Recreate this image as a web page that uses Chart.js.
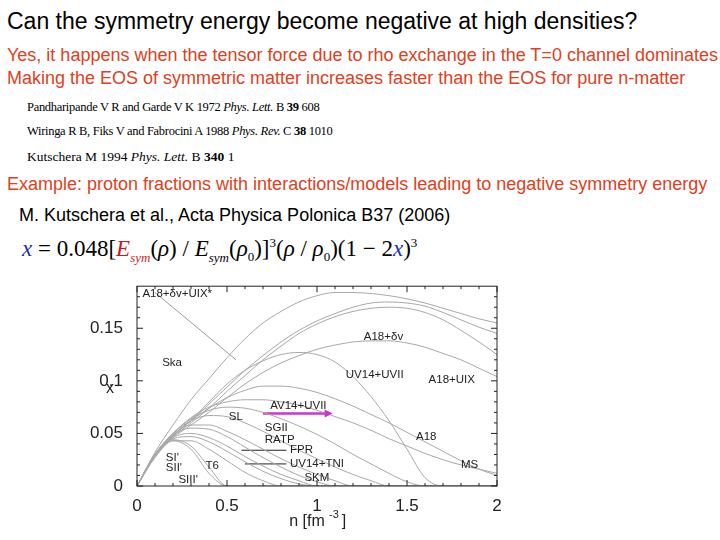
<!DOCTYPE html>
<html><head><meta charset="utf-8">
<script src="https://cdn.jsdelivr.net/npm/chart.js@4"></script>
<style>
body{margin:0;width:720px;height:540px;background:#fff;position:relative;overflow:hidden;font-family:Arial,"Liberation Sans",sans-serif}
.t{position:absolute;white-space:nowrap;line-height:1}
.red{color:#e0401c}
.tm{font-family:"Liberation Serif","Times New Roman",serif}
</style></head><body>
<div class="t" style="left:7px;top:10px;font-size:23px">Can the symmetry energy become negative at high densities?</div>
<div class="t red" style="left:7px;top:46px;font-size:18px">Yes, it happens when the tensor force due to rho exchange in the T=0 channel dominates</div>
<div class="t red" style="left:7px;top:69px;font-size:18px">Making the EOS of symmetric matter increases faster than the EOS for pure n-matter</div>
<div class="t tm" style="left:27px;top:101px;font-size:12.5px;letter-spacing:-0.3px">Pandharipande V R and Garde V K 1972 <i>Phys. Lett.</i> B <b>39</b> 608</div>
<div class="t tm" style="left:27px;top:125px;font-size:12.5px;letter-spacing:-0.3px">Wiringa R B, Fiks V and Fabrocini A 1988 <i>Phys. Rev.</i> C <b>38</b> 1010</div>
<div class="t tm" style="left:27px;top:150px;font-size:13.5px">Kutschera M 1994 <i>Phys. Lett.</i> B <b>340</b> 1</div>
<div class="t red" style="left:7px;top:175px;font-size:18px">Example: proton fractions with interactions/models leading to negative symmetry energy</div>
<div class="t" style="left:19px;top:206px;font-size:18px">M. Kutschera et al., Acta Physica Polonica B37 (2006)</div>
<div class="t tm" style="left:22px;top:236px;font-size:23px"><i style="color:#1a2fb0">x</i> = 0.048[<i style="color:#d01818">E<sub style="font-size:13px">sym</sub></i>(<i>ρ</i>) / <i>E<sub style="font-size:13px">sym</sub></i>(<i>ρ</i><sub style="font-size:13px">0</sub>)]<sup style="font-size:13px">3</sup>(<i>ρ</i> / <i>ρ</i><sub style="font-size:13px">0</sub>)(1 − 2<i style="color:#1a2fb0">x</i>)<sup style="font-size:13px">3</sup></div>
<div style="position:absolute;left:80px;top:270px;width:430px;height:270px"><canvas id="c" width="430" height="270"></canvas></div>
<script>
const nGrid=[0,0.1,0.2,0.3,0.4,0.5,0.6,0.7,0.8,0.9,1.0,1.1,1.2,1.3,1.4,1.5,1.6,1.7,1.8,1.9,2.0];
const curveSka=[0,0.032,0.058,0.082,0.102,0.122,0.14,0.155,0.166,0.175,0.181,0.184,0.184,0.183,0.181,0.178,0.174,0.169,0.164,0.159,0.155];
const curveB=[0,0.03,0.048,0.062,0.078,0.094,0.11,0.124,0.137,0.148,0.157,0.164,0.17,0.174,0.175,0.174,0.171,0.165,0.158,0.151,0.145];
const curveC=[0,0.03,0.047,0.06,0.074,0.09,0.105,0.12,0.133,0.145,0.154,0.161,0.166,0.169,0.17,0.169,0.165,0.158,0.148,0.137,0.125];
const curveA18dv=[0,0.03,0.046,0.058,0.07,0.084,0.097,0.108,0.117,0.124,0.13,0.134,0.137,0.138,0.138,0.136,0.132,0.126,0.12,0.112,0.104];
const curveUV14UVII=[0,0.03,0.048,0.063,0.08,0.097,0.11,0.119,0.125,0.127,0.125,0.118,0.104,0.085,0.062,0.035,0.008,0,0,0,0];
const curveA18=[0,0.03,0.048,0.062,0.074,0.084,0.091,0.095,0.095,0.093,0.089,0.083,0.076,0.068,0.06,0.051,0.042,0.033,0.024,0.016,0.01];
const curveMS=[0,0.03,0.05,0.065,0.075,0.08,0.082,0.082,0.08,0.077,0.072,0.066,0.06,0.053,0.045,0.038,0.031,0.025,0.02,0.016,0.012];
const curveAV14=[0,0.03,0.05,0.064,0.072,0.075,0.074,0.07,0.064,0.057,0.049,0.04,0.03,0.021,0.012,0.004,0,0,0,0,0];
const curveSGII=[0,0.03,0.05,0.062,0.067,0.066,0.06,0.052,0.043,0.034,0.026,0.018,0.011,0.005,0,0,0,0,0,0,0];
const curveRATP=[0,0.03,0.049,0.058,0.058,0.052,0.044,0.035,0.026,0.018,0.011,0.005,0,0,0,0,0,0,0,0,0];
const curveSKM=[0,0.03,0.048,0.055,0.054,0.047,0.037,0.027,0.018,0.01,0.004,0,0,0,0,0,0,0,0,0,0];
const curveFPR=[0,0.03,0.046,0.05,0.046,0.038,0.028,0.019,0.011,0.005,0,0,0,0,0,0,0,0,0,0,0];
const curveTNI=[0,0.029,0.045,0.047,0.042,0.033,0.023,0.014,0.007,0.002,0,0,0,0,0,0,0,0,0,0,0];
const curveT6=[0,0.028,0.043,0.043,0.035,0.024,0.013,0.005,0,0,0,0,0,0,0,0,0,0,0,0,0];
const curveSI=[0,0.028,0.044,0.038,0.018,0,0,0,0,0,0,0,0,0,0,0,0,0,0,0,0];
const curveSII=[0,0.027,0.043,0.035,0.012,0,0,0,0,0,0,0,0,0,0,0,0,0,0,0,0];
const pointerLine=[{x:0.1,y:0.184},{x:0.55,y:0.12}];
const fprLine=[{x:0.58,y:0.034},{x:0.83,y:0.034}];
const tniLine=[{x:0.6,y:0.021},{x:0.83,y:0.021}];
const arrowLine=[{x:0.7,y:0.069},{x:1.07,y:0.069}];
const xTicks=[0,0.5,1,1.5,2];
const yTicks=[0,0.05,0.1,0.15];
const labels=[["A18+δv+UIX*",0.03,0.183],["Ska",0.14,0.117],["A18+δv",1.26,0.142],["UV14+UVII",1.16,0.106],["A18+UIX",1.62,0.101],["AV14+UVII",0.74,0.076],["SL",0.51,0.066],["SGII",0.71,0.055],["RATP",0.71,0.044],["FPR",0.85,0.034],["UV14+TNI",0.85,0.021],["A18",1.55,0.047],["MS",1.8,0.02],["SKM",0.93,0.008],["SI'",0.16,0.027],["SII'",0.16,0.017],["SIII'",0.23,0.006],["T6",0.38,0.019]];
const curves=[curveSka,curveB,curveC,curveA18dv,curveUV14UVII,curveA18,curveMS,curveAV14,curveSGII,curveRATP,curveSKM,curveFPR,curveTNI,curveT6,curveSI,curveSII];
const ds=curves.map(c=>({data:c.map((v,i)=>({x:nGrid[i],y:v})),borderColor:'#a8a8a8',borderWidth:1,pointRadius:0,tension:0.4,cubicInterpolationMode:'monotone'}));
ds.push({data:pointerLine,borderColor:'#999',borderWidth:1,pointRadius:0});
ds.push({data:fprLine,borderColor:'#222',borderWidth:1,pointRadius:0});
ds.push({data:tniLine,borderColor:'#222',borderWidth:1,pointRadius:0});
ds.push({data:arrowLine,borderColor:'#d030d0',borderWidth:2.5,pointRadius:0});
const deco={id:'deco',afterDatasetsDraw(ch){const c=ch.ctx,xs=ch.scales.x,ys=ch.scales.y,a=ch.chartArea;
c.save();c.strokeStyle='#222';c.lineWidth=1;c.strokeRect(a.left,a.top,a.right-a.left,a.bottom-a.top);
for(let v=0;v<=2.0001;v+=0.1){const p=xs.getPixelForValue(v),L=(Math.round(v*10)%5==0)?6:3;c.beginPath();c.moveTo(p,a.bottom);c.lineTo(p,a.bottom-L);c.moveTo(p,a.top);c.lineTo(p,a.top+L);c.stroke();}
for(let v=0;v<=0.19;v+=0.01){const p=ys.getPixelForValue(v),L=(Math.round(v*100)%5==0)?6:3;c.beginPath();c.moveTo(a.left,p);c.lineTo(a.left+L,p);c.moveTo(a.right,p);c.lineTo(a.right-L,p);c.stroke();}
const ax=xs.getPixelForValue(arrowLine[1].x),ay=ys.getPixelForValue(arrowLine[1].y);c.fillStyle='#d030d0';c.beginPath();c.moveTo(ax+3,ay);c.lineTo(ax-5,ay-4);c.lineTo(ax-5,ay+4);c.fill();
c.fillStyle='#222';c.font='11.5px Arial';c.textBaseline='middle';
labels.forEach(l=>c.fillText(l[0],xs.getPixelForValue(l[1]),ys.getPixelForValue(l[2])));
c.font='16px Arial';c.textAlign='center';c.fillText('x',30,ys.getPixelForValue(0.093));
const mx=(a.left+a.right)/2;c.fillText('n [fm',mx-10,252);c.font='11px Arial';c.fillText('-3',mx+17,245);c.font='16px Arial';c.fillText(']',mx+27,252);
c.restore();}};
new Chart(document.getElementById('c'),{type:'line',data:{datasets:ds},plugins:[deco],
options:{responsive:false,animation:false,layout:{padding:{top:12,right:13}},
plugins:{legend:{display:false},tooltip:{enabled:false}},
scales:{x:{type:'linear',min:0,max:2,grid:{display:false},border:{display:false},afterFit(s){s.height=54;},
afterBuildTicks(s){s.ticks=xTicks.map(v=>({value:v}));},ticks:{color:'#222',font:{size:17,family:'Arial'},padding:2,callback:v=>String(v)}},
y:{min:0,max:0.19,grid:{display:false},border:{display:false},afterFit(s){s.width=57;},
afterBuildTicks(s){s.ticks=yTicks.map(v=>({value:v}));},ticks:{color:'#222',font:{size:17,family:'Arial'},padding:6,callback:v=>String(v)}}}}});
</script></body></html>
